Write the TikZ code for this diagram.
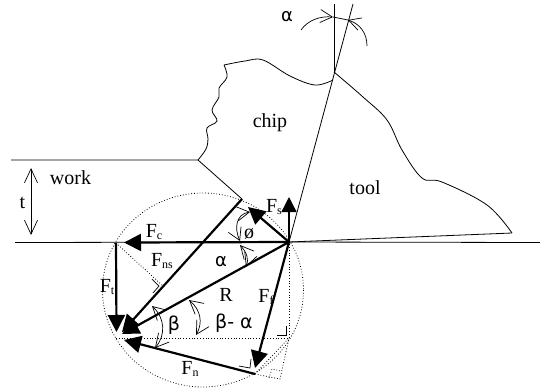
\documentclass[tikz,border=0pt]{standalone}
\usepackage{fontspec}
\setmainfont{Liberation Serif}
\newfontfamily\grk{DejaVu Sans}
\usetikzlibrary{arrows.meta}
\newcommand{\lbl}[2]{F{\fontsize{12}{12}\selectfont\raisebox{-2.5pt}{#1}}#2}
\tikzset{
  outline/.style={line width=0.8pt},
  force/.style={line width=2.2pt,-{Triangle[length=17pt,width=17pt]}},
  hair/.style={line width=0.7pt},
  dots/.style={line width=0.8pt,dotted},
  barbs/.style={line width=0.7pt,{Straight Barb[length=14pt,width=16pt,angle'=50]}-{Straight Barb[length=14pt,width=16pt,angle'=50]}},
  txt/.style={font=\fontsize{20}{20}\selectfont,inner sep=0pt}
}
\begin{document}
\begin{tikzpicture}[x=1pt,y=-1pt]
    \useasboundingbox (0,0) rectangle (540,389);
    \coordinate (tip) at (289,242);
    \coordinate (shear) at (242,199);
    \coordinate (crest) at (334,72);
    \coordinate (root) at (198,160);
    \coordinate (left) at (116,243);
    \coordinate (low) at (255,374);
    \coordinate (corner) at (289,338);
    \coordinate (foot) at (163,286);
    \draw[dots] (203,290) ellipse (100.5 and 97); % circle
    \draw[outline] (15,242.5) -- (tip) -- (540,242.5); % surface
    \draw[outline] (11,160) -- (root) -- (shear); % work and shear plane
    \draw[outline] (tip) -- (353,4); % rake face
    \draw[outline] (crest) -- (334,4); % vertical
    \draw[outline] (tip) -- (512,233); % clearance face
    \draw[outline] plot[smooth,tension=0.6] coordinates {(198,160) (206,149) (208,139) (207,128) (217,121) (212,110) (219,97) (219,88) (227,77) (224,65)}; % free side
    \draw[outline] plot[smooth,tension=0.6] coordinates {(224,65) (245,61) (263,60) (290,76) (315,85) (333,80)}; % chip top
    \draw[outline] plot[smooth,tension=0.6] coordinates {(crest) (363,97) (387,120) (402,150) (422,178) (442,182) (487,205) (512,233)}; % tool
    \draw[barbs] (31,168) -- (31,235); % depth
    \draw[dots] (left) -- (foot); % normal to shear force
    \draw[dots] (116,338) -- (corner) -- (tip);
    \draw[dots] (low) -- (corner);
    \draw[dots] (low) -- (280,379) -- (corner);
    \draw[hair] (152,279) -- (159,286) -- (153,293); % square marks
    \draw[hair] (239,366) -- (250,368) -- (251,359);
    \draw[hair] (277,335) -- (286,335) -- (286,326);
    \draw[dots,line width=0.7pt] (269,378) -- (272,369) -- (281,371);
    \draw[force] (tip) -- (124,242.5); % cutting force
    \draw[force] (left) -- (116.5,332); % thrust
    \draw[force] (shear) -- (122,332); % normal on shear plane
    \draw[force] (tip) -- (122,334); % resultant
    \draw[force] (low) -- (124,340); % normal
    \draw[force] (tip) -- (255,368); % friction
    \draw[force] (tip) -- (248,207); % shear
    \draw[line width=1.4pt,-{Triangle[length=15pt,width=15pt]}] (tip) -- (289,197); % up
    \draw[hair,-{Straight Barb[length=12pt,width=13pt]}] (301,30) .. controls (308,20) and (320,16) .. (333,17); % top angle
    \draw[hair,-{Straight Barb[length=12pt,width=13pt]}] (367,46) .. controls (367,33) and (360,24) .. (348,20);
    \draw[hair] (333,17) -- (348,20);
    \draw[hair,{Straight Barb[length=12pt,width=14pt]}-{Straight Barb[length=12pt,width=14pt]}] (240,241) .. controls (234,228) and (236,214) .. (250,212); % shear angle
    \draw[hair,{Straight Barb[length=13pt,width=13pt]}-{Straight Barb[length=13pt,width=13pt]}] (240,245) .. controls (247,253) and (249,259) .. (246,267); % rake angle
    \draw[hair,{Straight Barb[length=13pt,width=14pt]}-{Straight Barb[length=13pt,width=14pt]}] (152,306) .. controls (165,318) and (166,335) .. (155,348); % beta
    \draw[hair,{Straight Barb[length=13pt,width=14pt]}-{Straight Barb[length=13pt,width=14pt]}] (189,300) .. controls (201,310) and (203,323) .. (196,335); % beta minus alpha
    \node[txt] (chiplbl) at (270,123) {chip};
    \node[txt] (toollbl) at (365,188) {tool};
    \node[txt] (worklbl) at (70.5,178) {work};
    \node[txt] (tlbl) at (22.5,203) {t};
    \node[txt,font=\fontsize{18}{18}\selectfont\grk] (alphatop) at (287,17) {α};
    \node[txt] (fclbl) at (154,232) {\lbl{c}{}};
    \node[txt] (fnslbl) at (162,261) {\lbl{ns}{}};
    \node[txt] (ftlbl) at (107,287) {\lbl{t}{}};
    \node[txt] (fslbl) at (274,207) {\lbl{s}{}};
    \node[txt] (fflbl) at (266,297) {\lbl{f}{}};
    \node[txt] (fnlbl) at (190,369) {\lbl{n}{}};
    \node[txt] (rlbl) at (226,295) {R};
    \node[txt] (philbl) at (249,234) {ø};
    \node[txt,font=\fontsize{18}{18}\selectfont\grk] (alphalbl) at (221,262) {α};
    \node[txt,font=\fontsize{19}{19}\selectfont\grk] (betalbl) at (174,325) {β};
    \node[txt,font=\fontsize{19}{19}\selectfont\grk] (bmalbl) at (234,323) {β- α};
\end{tikzpicture}
\end{document}
